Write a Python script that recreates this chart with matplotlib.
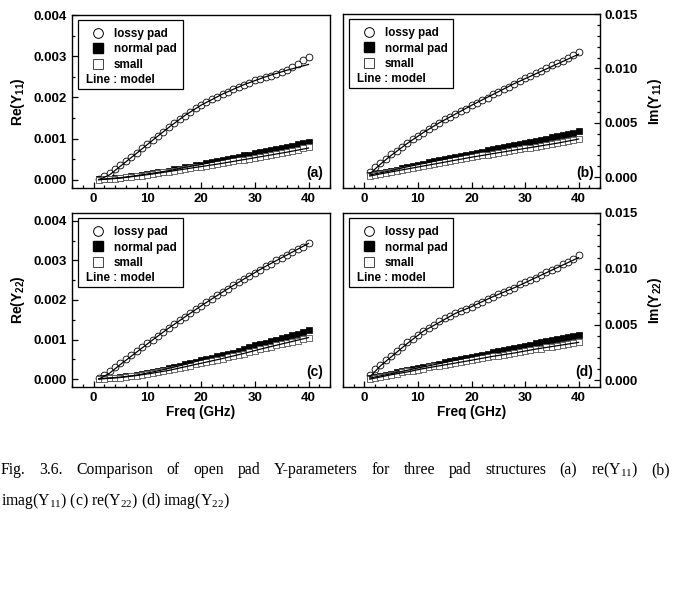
import numpy as np
import matplotlib
matplotlib.use('Agg')
import matplotlib.pyplot as plt
from matplotlib.lines import Line2D
from matplotlib.patches import Rectangle
from matplotlib.ticker import MultipleLocator, FormatStrFormatter

plt.rcParams['font.family'] = ['Liberation Sans', 'DejaVu Sans']
plt.rcParams['font.weight'] = 'bold'

# measured data, 1..40 GHz, values in mS
freq = np.arange(1, 41)

lossy_a = [0.02, 0.08, 0.16, 0.26, 0.36, 0.46, 0.56, 0.66, 0.76, 0.86, 0.97, 1.07, 1.17, 1.27, 1.37, 1.47, 1.56, 1.65, 1.74, 1.82,
           1.89, 1.96, 2.02, 2.08, 2.14, 2.20, 2.25, 2.31, 2.36, 2.41, 2.45, 2.49, 2.53, 2.57, 2.61, 2.66, 2.73, 2.81, 2.90, 2.98]
normal_a = [0.01, 0.02, 0.03, 0.04, 0.05, 0.07, 0.08, 0.10, 0.12, 0.14, 0.16, 0.18, 0.20, 0.22, 0.25, 0.27, 0.30, 0.32, 0.35, 0.37,
            0.40, 0.42, 0.45, 0.48, 0.50, 0.53, 0.56, 0.59, 0.61, 0.64, 0.67, 0.70, 0.72, 0.75, 0.78, 0.80, 0.83, 0.86, 0.89, 0.92]
small_a = [0.00, 0.01, 0.02, 0.03, 0.04, 0.06, 0.07, 0.09, 0.10, 0.12, 0.14, 0.16, 0.18, 0.20, 0.22, 0.24, 0.26, 0.28, 0.30, 0.32,
           0.34, 0.36, 0.38, 0.40, 0.42, 0.45, 0.47, 0.49, 0.51, 0.53, 0.56, 0.58, 0.60, 0.63, 0.65, 0.68, 0.70, 0.73, 0.76, 0.79]

lossy_b = [0.5, 0.9, 1.3, 1.7, 2.1, 2.4, 2.8, 3.1, 3.5, 3.8, 4.1, 4.4, 4.7, 5.0, 5.3, 5.5, 5.8, 6.1, 6.3, 6.6,
           6.8, 7.1, 7.3, 7.6, 7.8, 8.1, 8.3, 8.6, 8.8, 9.1, 9.3, 9.6, 9.8, 10.0, 10.3, 10.5, 10.7, 11.0, 11.2, 11.5]
normal_b = [0.2, 0.3, 0.4, 0.5, 0.6, 0.7, 0.8, 0.95, 1.05, 1.15, 1.25, 1.35, 1.45, 1.55, 1.65, 1.75, 1.85, 1.95, 2.05, 2.15,
            2.25, 2.35, 2.45, 2.55, 2.65, 2.75, 2.85, 2.95, 3.05, 3.15, 3.25, 3.35, 3.45, 3.55, 3.65, 3.75, 3.85, 4.0, 4.1, 4.25]
small_b = [0.1, 0.2, 0.3, 0.4, 0.48, 0.57, 0.66, 0.75, 0.84, 0.93, 1.02, 1.11, 1.2, 1.29, 1.38, 1.47, 1.56, 1.65, 1.74, 1.83,
           1.92, 2.0, 2.08, 2.16, 2.24, 2.32, 2.4, 2.48, 2.56, 2.64, 2.72, 2.8, 2.88, 2.96, 3.04, 3.12, 3.2, 3.3, 3.4, 3.55]

lossy_c = [0.03, 0.10, 0.20, 0.30, 0.40, 0.50, 0.60, 0.70, 0.80, 0.90, 1.00, 1.10, 1.20, 1.30, 1.40, 1.49, 1.58, 1.67, 1.76, 1.85,
           1.94, 2.03, 2.12, 2.20, 2.29, 2.37, 2.45, 2.53, 2.61, 2.69, 2.77, 2.85, 2.92, 3.00, 3.07, 3.14, 3.21, 3.28, 3.35, 3.45]
normal_c = [0.01, 0.02, 0.03, 0.04, 0.05, 0.07, 0.08, 0.10, 0.13, 0.16, 0.18, 0.21, 0.24, 0.27, 0.30, 0.34, 0.37, 0.40, 0.44, 0.48,
            0.51, 0.54, 0.58, 0.61, 0.64, 0.67, 0.71, 0.75, 0.80, 0.85, 0.88, 0.92, 0.96, 1.00, 1.03, 1.07, 1.11, 1.15, 1.19, 1.23]
small_c = [0.00, 0.01, 0.02, 0.03, 0.04, 0.05, 0.07, 0.09, 0.11, 0.13, 0.15, 0.17, 0.20, 0.22, 0.25, 0.28, 0.31, 0.34, 0.37, 0.40,
           0.43, 0.46, 0.49, 0.52, 0.55, 0.58, 0.61, 0.64, 0.68, 0.72, 0.75, 0.78, 0.82, 0.85, 0.88, 0.91, 0.94, 0.97, 1.01, 1.05]

lossy_d = [0.5, 1.0, 1.4, 1.8, 2.2, 2.6, 3.0, 3.4, 3.7, 4.1, 4.4, 4.7, 5.0, 5.3, 5.6, 5.8, 6.0, 6.2, 6.4, 6.6,
           6.8, 7.0, 7.3, 7.5, 7.7, 7.9, 8.1, 8.3, 8.6, 8.8, 9.0, 9.2, 9.4, 9.7, 9.9, 10.1, 10.4, 10.6, 10.9, 11.2]
normal_d = [0.2, 0.3, 0.4, 0.5, 0.6, 0.7, 0.8, 0.9, 1.0, 1.1, 1.2, 1.3, 1.4, 1.5, 1.6, 1.7, 1.8, 1.9, 2.0, 2.1,
            2.2, 2.3, 2.4, 2.5, 2.6, 2.7, 2.8, 2.9, 3.0, 3.1, 3.2, 3.3, 3.4, 3.5, 3.6, 3.7, 3.8, 3.9, 4.0, 4.1]
small_d = [0.1, 0.2, 0.3, 0.4, 0.5, 0.6, 0.7, 0.8, 0.85, 0.95, 1.05, 1.15, 1.25, 1.3, 1.4, 1.5, 1.55, 1.65, 1.75, 1.8,
           1.9, 2.0, 2.05, 2.15, 2.2, 2.3, 2.4, 2.45, 2.55, 2.6, 2.7, 2.8, 2.85, 2.95, 3.0, 3.1, 3.2, 3.25, 3.3, 3.4]

# model curves (mS)
model_f = [1, 3, 5, 8, 11, 14, 17, 20, 24, 28, 32, 36, 40]
lossy_a_m = [0.0, 0.12, 0.33, 0.64, 0.96, 1.27, 1.56, 1.81, 2.08, 2.31, 2.50, 2.66, 2.80]
normal_a_m = [0.01, 0.03, 0.05, 0.10, 0.16, 0.22, 0.30, 0.37, 0.48, 0.58, 0.69, 0.79, 0.89]
small_a_m = [0.0, 0.02, 0.04, 0.09, 0.14, 0.20, 0.26, 0.32, 0.40, 0.49, 0.58, 0.67, 0.77]
lossy_b_m = [0.3, 1.2, 2.0, 3.1, 4.1, 5.0, 5.8, 6.6, 7.6, 8.6, 9.5, 10.4, 11.3]
normal_b_m = [0.2, 0.4, 0.6, 0.95, 1.25, 1.55, 1.85, 2.15, 2.55, 2.95, 3.35, 3.75, 4.2]
small_b_m = [0.1, 0.3, 0.48, 0.75, 1.02, 1.29, 1.56, 1.83, 2.16, 2.48, 2.8, 3.12, 3.5]
lossy_c_m = [0.0, 0.15, 0.37, 0.68, 0.99, 1.29, 1.57, 1.85, 2.20, 2.53, 2.85, 3.14, 3.43]
normal_c_m = [0.01, 0.03, 0.05, 0.10, 0.18, 0.27, 0.37, 0.48, 0.62, 0.76, 0.92, 1.07, 1.22]
small_c_m = [0.0, 0.02, 0.04, 0.09, 0.15, 0.22, 0.31, 0.40, 0.52, 0.65, 0.79, 0.92, 1.05]
lossy_d_m = [0.3, 1.3, 2.1, 3.3, 4.4, 5.2, 6.0, 6.6, 7.5, 8.3, 9.2, 10.1, 11.0]
normal_d_m = [0.2, 0.4, 0.6, 0.9, 1.2, 1.5, 1.8, 2.1, 2.5, 2.9, 3.3, 3.7, 4.05]
small_d_m = [0.1, 0.3, 0.5, 0.75, 1.05, 1.3, 1.55, 1.8, 2.15, 2.45, 2.8, 3.1, 3.4]

panels = [
    ('a', 'Re(Y$_{\\mathregular{11}}$)', lossy_a, normal_a, small_a, lossy_a_m, normal_a_m, small_a_m, (-0.0002, 0.004), 0.001, 0.0005, 'left'),
    ('b', 'Im(Y$_{\\mathregular{11}}$)', lossy_b, normal_b, small_b, lossy_b_m, normal_b_m, small_b_m, (-0.001, 0.015), 0.005, 0.001, 'right'),
    ('c', 'Re(Y$_{\\mathregular{22}}$)', lossy_c, normal_c, small_c, lossy_c_m, normal_c_m, small_c_m, (-0.0002, 0.0042), 0.001, 0.0005, 'left'),
    ('d', 'Im(Y$_{\\mathregular{22}}$)', lossy_d, normal_d, small_d, lossy_d_m, normal_d_m, small_d_m, (-0.0006, 0.015), 0.005, 0.001, 'right'),
]

W, H = 673, 599
fig = plt.figure(figsize=(W / 100, H / 100), dpi=100)

# axes boxes in pixels: left, top, right, bottom
boxes = [(72, 15, 330, 188), (343, 14, 600, 188), (72, 213, 330, 387), (343, 213, 600, 387)]

for (tag, ylab, lo, no, sm, lo_m, no_m, sm_m, ylim, major, minor, side), (l, t, r, b) in zip(panels, boxes):
    ax = fig.add_axes([l / W, 1 - b / H, (r - l) / W, (b - t) / H])
    ax.plot(freq, np.array(lo) * 1e-3, 'o', ms=4.9, mfc='white', mec='black', mew=0.6, zorder=2)
    ax.plot(freq, np.array(no) * 1e-3, 's', ms=4.4, mfc='black', mec='black', mew=0.5, zorder=2)
    ax.plot(freq, np.array(sm) * 1e-3, 's', ms=4.4, mfc='white', mec='#555555', mew=0.6, zorder=2)
    for m in (lo_m, no_m, sm_m):
        ax.plot(model_f, np.array(m) * 1e-3, '-', color='black', lw=0.9, zorder=3)

    ax.set_xlim(-4, 44)
    ax.set_ylim(*ylim)
    ax.xaxis.set_major_locator(MultipleLocator(10))
    ax.xaxis.set_minor_locator(MultipleLocator(2))
    ax.yaxis.set_major_locator(MultipleLocator(major))
    ax.yaxis.set_minor_locator(MultipleLocator(minor))
    ax.yaxis.set_major_formatter(FormatStrFormatter('%.3f'))
    for s in ax.spines.values():
        s.set_linewidth(1.0)
    ax.tick_params(which='both', direction='in', top=False, labelsize=9.5, width=0.9)
    ax.tick_params(which='major', length=4)
    ax.tick_params(which='minor', length=2.5)
    for lbl in ax.get_xticklabels() + ax.get_yticklabels():
        lbl.set_fontweight('bold')
    if side == 'right':
        ax.yaxis.tick_right()
        ax.yaxis.set_label_position('right')
        ax.tick_params(which='both', left=False, right=True)
        ax.set_ylabel(ylab, fontsize=10, fontweight='bold', labelpad=6)
    else:
        ax.tick_params(which='both', right=False)
        ax.set_ylabel(ylab, fontsize=10, fontweight='bold', labelpad=5)
    if tag in ('c', 'd'):
        ax.set_xlabel('Freq (GHz)', fontsize=9.8, fontweight='bold', labelpad=1)

    # legend
    handles = [Line2D([], [], ls='none', marker='o', ms=7, mfc='white', mec='black', mew=0.7),
               Line2D([], [], ls='none', marker='s', ms=6.5, mfc='black', mec='black'),
               Line2D([], [], ls='none', marker='s', ms=6.5, mfc='white', mec='#444444', mew=0.7)]
    ax.legend(handles, ['lossy pad', 'normal pad', 'small'], loc='upper left',
              bbox_to_anchor=(0.074, 0.925), frameon=False, borderaxespad=0, borderpad=0,
              handlelength=1.2, handletextpad=0.75, labelspacing=0.3,
              prop={'size': 8.4, 'weight': 'bold'})
    ax.text(0.054, 0.624, 'Line : model', transform=ax.transAxes, fontsize=8.4,
            fontweight='bold', va='center', ha='left')
    ax.add_patch(Rectangle((0.024, 0.575), 0.405, 0.395, transform=ax.transAxes,
                           fill=False, ec='black', lw=0.9, zorder=5))
    ax.text(0.975, 0.045, '(%s)' % tag, transform=ax.transAxes, fontsize=10,
            fontweight='bold', ha='right', va='bottom')

# caption, justified first line
cap_font = dict(family=['Liberation Serif', 'DejaVu Serif'], fontsize=11.3, fontweight='normal')
line1 = ['Fig.', '3.6.', 'Comparison', 'of', 'open', 'pad', 'Y-parameters', 'for', 'three', 'pad',
         'structures', '(a)', 're(Y$_{\\mathregular{11}}$)', '(b)']
line2 = 'imag(Y$_{\\mathregular{11}}$) (c) re(Y$_{\\mathregular{22}}$) (d) imag(Y$_{\\mathregular{22}}$)'

fig.canvas.draw()
renderer = fig.canvas.get_renderer()
words = [fig.text(0, 1 - 474 / H, w, va='baseline', **cap_font) for w in line1]
widths = [t.get_window_extent(renderer).width for t in words]
x0, x1 = 1, 670
gap = (x1 - x0 - sum(widths)) / (len(words) - 1)
x = x0
for t, w in zip(words, widths):
    t.set_x(x / W)
    x += w + gap
fig.text(1 / W, 1 - 505 / H, line2, va='baseline', **cap_font)

fig.savefig('out.png', dpi=100)
